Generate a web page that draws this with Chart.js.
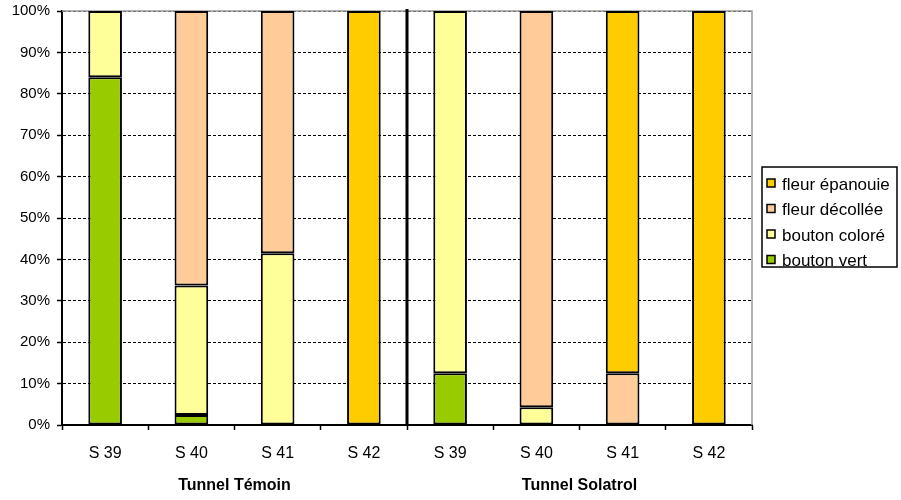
<!DOCTYPE html>
<html>
<head>
<meta charset="utf-8">
<script src="https://cdn.jsdelivr.net/npm/chart.js@4/dist/chart.umd.min.js"></script>
<style>
  html, body { margin: 0; padding: 0; background: #fff; }
  #wrap { width: 901px; height: 500px; }
</style>
</head>
<body>
<div id="wrap"><canvas id="c" width="901" height="500"></canvas></div>
<script>
// Weekly stage distribution of flowers in two tunnels (percent of each bar)
const categories = ['S 39', 'S 40', 'S 41', 'S 42', 'S 39', 'S 40', 'S 41', 'S 42'];
const groups = ['Tunnel Témoin', 'Tunnel Solatrol'];
const yTicks = [0, 10, 20, 30, 40, 50, 60, 70, 80, 90, 100];

const boutonVert    = [84,   2.4,  null, null, 12.5, null, null, null];
const boutonColore  = [16,   31.3, 41.5, null, 87.5, 4.3,  null, null];
const fleurDecollee = [null, 66.3, 58.5, null, null, 95.7, 12.5, null];
const fleurEpanouie = [null, null, null, 100,  null, null, 87.5, 100];

const FONT = '"Liberation Sans", Arial, sans-serif';

function series(label, data, color) {
  return {
    label, data,
    backgroundColor: color,
    borderColor: '#000',
    borderWidth: 2,
    borderSkipped: false,
    barPercentage: 0.39,
    categoryPercentage: 1
  };
}

const datasets = [
  series('bouton vert', boutonVert, '#99CC00'),
  series('bouton coloré', boutonColore, '#FFFF99'),
  series('fleur décollée', fleurDecollee, '#FFCC99'),
  series('fleur épanouie', fleurEpanouie, '#FFCC00')
];

// Frame, group separator and boxed legend
const decor = {
  id: 'decor',
  beforeDatasetsDraw(chart) {
    const { ctx, chartArea: a } = chart;
    ctx.save();
    // light frame on top and right
    ctx.strokeStyle = '#9a9a9a';
    ctx.lineWidth = 1.5;
    ctx.beginPath();
    ctx.moveTo(a.left, a.top);
    ctx.lineTo(a.right, a.top);
    ctx.lineTo(a.right, a.bottom);
    ctx.stroke();
    ctx.restore();
  },
  afterDatasetsDraw(chart) {
    const { ctx, chartArea: a, scales } = chart;
    const x = scales.x;
    ctx.save();
    // separator between the two tunnels
    const sx = (x.getPixelForTick(3) + x.getPixelForTick(4)) / 2;
    ctx.strokeStyle = '#000';
    ctx.lineWidth = 3;
    ctx.beginPath();
    ctx.moveTo(sx, a.top - 2);
    ctx.lineTo(sx, a.bottom);
    ctx.stroke();
    ctx.restore();
  },
  afterDraw(chart) {
    const { ctx } = chart;
    const items = chart.data.datasets.slice().reverse();
    const bx = 762, by = 167, bw = 135, bh = 100;
    ctx.save();
    ctx.fillStyle = '#fff';
    ctx.fillRect(bx, by, bw, bh);
    ctx.font = '17px ' + FONT;
    ctx.textBaseline = 'middle';
    items.forEach((ds, i) => {
      const cy = by + 17 + i * 25.5;
      ctx.fillStyle = ds.backgroundColor;
      ctx.fillRect(767, cy - 5, 8, 8);
      ctx.strokeStyle = '#000';
      ctx.lineWidth = 1.5;
      ctx.strokeRect(767, cy - 5, 8, 8);
      ctx.fillStyle = '#000';
      ctx.fillText(ds.label, 782, cy + 1);
    });
    ctx.strokeStyle = '#000';
    ctx.lineWidth = 1.5;
    ctx.strokeRect(bx, by, bw, bh);
    ctx.restore();
  }
};

new Chart(document.getElementById('c'), {
  type: 'bar',
  data: { labels: categories, datasets },
  options: {
    responsive: false,
    animation: false,
    layout: { padding: { top: 11, right: 149, left: 0, bottom: 0 } },
    plugins: { legend: { display: false }, tooltip: { enabled: false } },
    scales: {
      x: {
        stacked: true,
        offset: true,
        weight: 0,
        grid: { offset: true, drawOnChartArea: false, drawTicks: true, tickLength: 5, color: '#000', tickWidth: 1.5 },
        border: { color: '#000', width: 2 },
        ticks: { color: '#000', font: { family: FONT, size: 16 }, padding: 14 },
        afterFit(s) { s.height = 35; s.paddingLeft = 0; s.paddingRight = 0; }
      },
      x2: {
        type: 'category',
        labels: groups,
        position: 'bottom',
        offset: true,
        weight: 1,
        grid: { display: false, drawTicks: false },
        border: { display: false },
        ticks: { color: '#000', font: { family: FONT, size: 16, weight: 'bold' }, padding: 16 },
        afterFit(s) { s.height = 40; s.paddingLeft = 0; s.paddingRight = 0; }
      },
      y: {
        stacked: true,
        min: 0,
        max: 100,
        afterBuildTicks(s) { s.ticks = yTicks.map(v => ({ value: v })); },
        grid: { color: '#000', lineWidth: 1, tickLength: 5, tickColor: '#000', tickWidth: 1.5, tickBorderDash: [] },
        border: { color: '#000', width: 2, dash: [3, 2] },
        ticks: { color: '#000', font: { family: FONT, size: 15 }, padding: 7, callback: v => v + '%' },
        afterFit(s) { s.width = 62; s.paddingTop = 0; s.paddingBottom = 0; }
      }
    }
  },
  plugins: [decor]
});
</script>
</body>
</html>
